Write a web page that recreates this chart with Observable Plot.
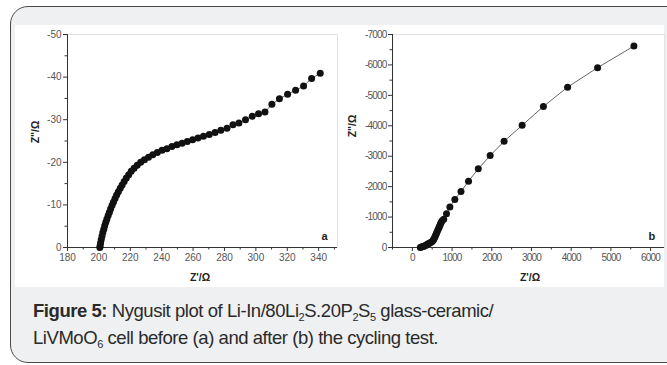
<!DOCTYPE html>
<html>
<head>
<meta charset="utf-8">
<script src="https://cdn.jsdelivr.net/npm/d3@7"></script>
<script src="https://cdn.jsdelivr.net/npm/@observablehq/plot@0.6"></script>
<style>
  body { margin:0; background:#ffffff; width:667px; height:365px; overflow:hidden; position:relative; font-family:"Liberation Sans", Arial, sans-serif; }
  #box { position:absolute; left:10px; top:6px; width:720px; height:355px; border:1.5px solid #4a4a4a; border-radius:18px; background:#eff0f2; }
  #white { position:absolute; left:15px; top:25px; width:649px; height:262px; background:#ffffff; }
  .plot { position:absolute; top:25px; }
  .lab { position:absolute; font-weight:bold; font-size:10.5px; color:#222; white-space:nowrap; transform:translate(-50%,-50%); }
  .ylab { transform:translate(-50%,-50%) rotate(-90deg); }
  #cap { position:absolute; left:33px; top:297px; font-size:18.5px; line-height:27px; color:#2a2a2a; white-space:nowrap; letter-spacing:-0.45px; }
  #cap sub { font-size:11px; vertical-align:-4px; line-height:0; }
</style>
</head>
<body>
<div id="box"></div>
<div id="white"></div>
<div id="pa" class="plot" style="left:15px"></div>
<div id="pb" class="plot" style="left:340px"></div>
<div class="lab" style="left:200px;top:277px">Z'/Ω</div>
<div class="lab ylab" style="left:35px;top:132px">Z"/Ω</div>
<div class="lab" style="left:530px;top:277px">Z'/Ω</div>
<div class="lab ylab" style="left:352px;top:126px">Z"/Ω</div>
<div id="cap"><b>Figure 5:</b> Nygusit plot of Li-In/80Li<sub>2</sub>S.20P<sub>2</sub>S<sub>5</sub> glass-ceramic/<br>LiVMoO<sub>6</sub> cell before (a) and after (b) the cycling test.</div>
<script>
// Panel (a): before cycling — Z' (Ω) and Z'' (Ω)
const aX = [200.6, 200.8, 201.1, 201.5, 202.0, 202.5, 203.1, 203.7, 204.4, 205.1, 205.9, 206.7, 207.5, 208.4, 209.3, 210.3, 211.3, 212.4, 213.6, 214.8, 216.1, 217.5, 219.0, 220.6, 222.4, 224.4, 226.6, 229.0, 231.6, 234.3, 237.2, 240.2, 243.3, 246.5, 249.7, 253.0, 256.3, 259.7, 263.1, 266.6, 270.3, 274.0, 277.7, 281.6, 285.4, 289.2, 293.4, 297.7, 301.7, 305.8, 310.2, 315.0, 320.2, 325.3, 330.4, 335.5, 341.0];
const aY = [0, -0.4, -1.1, -1.9, -2.7, -3.5, -4.3, -5.1, -5.9, -6.7, -7.5, -8.3, -9.1, -9.9, -10.7, -11.5, -12.3, -13.1, -13.9, -14.7, -15.5, -16.3, -17.1, -17.9, -18.6, -19.3, -20.0, -20.6, -21.2, -21.8, -22.3, -22.8, -23.2, -23.7, -24.1, -24.5, -24.9, -25.3, -25.7, -26.1, -26.5, -27.0, -27.5, -28.0, -28.8, -29.2, -30.0, -30.8, -31.4, -31.8, -33.6, -34.9, -36.0, -36.9, -37.9, -39.7, -40.9];
// Panel (b): after cycling
const bX = [200, 230, 260, 290, 320, 350, 380, 410, 440, 470, 500, 525, 545, 565, 585, 605, 625, 645, 665, 685, 705, 725, 750, 790, 860, 945, 1070, 1225, 1415, 1660, 1960, 2310, 2765, 3300, 3910, 4665, 5580];
const bY = [0, -15, -30, -45, -60, -80, -105, -130, -150, -170, -200, -240, -290, -340, -400, -460, -520, -580, -640, -700, -760, -820, -880, -930, -1110, -1330, -1580, -1840, -2180, -2585, -3020, -3490, -4015, -4635, -5270, -5910, -6620];

const aXTicks = [180, 200, 220, 240, 260, 280, 300, 320, 340];
const aXMinor = [190, 210, 230, 250, 270, 290, 310, 330, 350];
const aYTicks = [-50, -40, -30, -20, -10, 0];
const aYMinor = [-45, -35, -25, -15, -5];
const bXTicks = [0, 1000, 2000, 3000, 4000, 5000, 6000];
const bXMinor = [-500, 500, 1500, 2500, 3500, 4500, 5500];
const bYTicks = [-7000, -6000, -5000, -4000, -3000, -2000, -1000, 0];
const bYMinor = [-6500, -5500, -4500, -3500, -2500, -1500, -500];

const aData = aX.map((x, i) => ({x, y: aY[i]}));
const bData = bX.map((x, i) => ({x, y: bY[i]}));
const fmt = d => String(d);
const blank = () => "";

function panel(data, opts) {
  return Plot.plot({
    width: opts.width, height: 262,
    marginLeft: 52, marginRight: opts.mr, marginTop: 9, marginBottom: 40,
    x: {domain: opts.xd},
    y: {domain: opts.yd},
    style: {fontFamily: "'Liberation Sans', Arial, sans-serif", fontSize: "10px", background: "transparent", color: "#555", letterSpacing: opts.ls},
    marks: [
      Plot.frame({stroke: "#e2e2e2"}),
      Plot.ruleY([opts.yd[0]], {stroke: "#333", strokeWidth: 1}),
      Plot.ruleX([opts.xd[0]], {stroke: "#333", strokeWidth: 1}),
      Plot.axisX({ticks: opts.xt, tickSize: 4, tickPadding: 2, tickFormat: fmt, label: null, stroke: "#333", fill: "#555"}),
      Plot.axisX({ticks: opts.xm, tickSize: 2.5, tickFormat: blank, label: null, stroke: "#333"}),
      Plot.axisY({ticks: opts.yt, tickSize: 4, tickPadding: 2, tickFormat: fmt, label: null, stroke: "#333", fill: "#555"}),
      Plot.axisY({ticks: opts.ym, tickSize: 2.5, tickFormat: blank, label: null, stroke: "#333"}),
      Plot.line(data, {x: "x", y: "y", stroke: "#555", strokeWidth: 0.9}),
      Plot.dot(data, {x: "x", y: "y", r: 3.5, fill: "#111", stroke: null}),
      Plot.text([opts.tag], {text: d => d, frameAnchor: "bottom-right", dx: -10, dy: -8, fontWeight: "bold", fontSize: 11, fill: "#222"})
    ]
  });
}

document.getElementById("pa").append(panel(aData, {width: 325, mr: 3, xd: [180, 352], yd: [0, -50], xt: aXTicks, xm: aXMinor, yt: aYTicks, ym: aYMinor, tag: "a", ls: "0px"}));
document.getElementById("pb").append(panel(bData, {width: 326, mr: 2, xd: [-500, 6350], yd: [0, -7000], xt: bXTicks, xm: bXMinor, yt: bYTicks, ym: bYMinor, tag: "b", ls: "-0.8px"}));
</script>
</body>
</html>
